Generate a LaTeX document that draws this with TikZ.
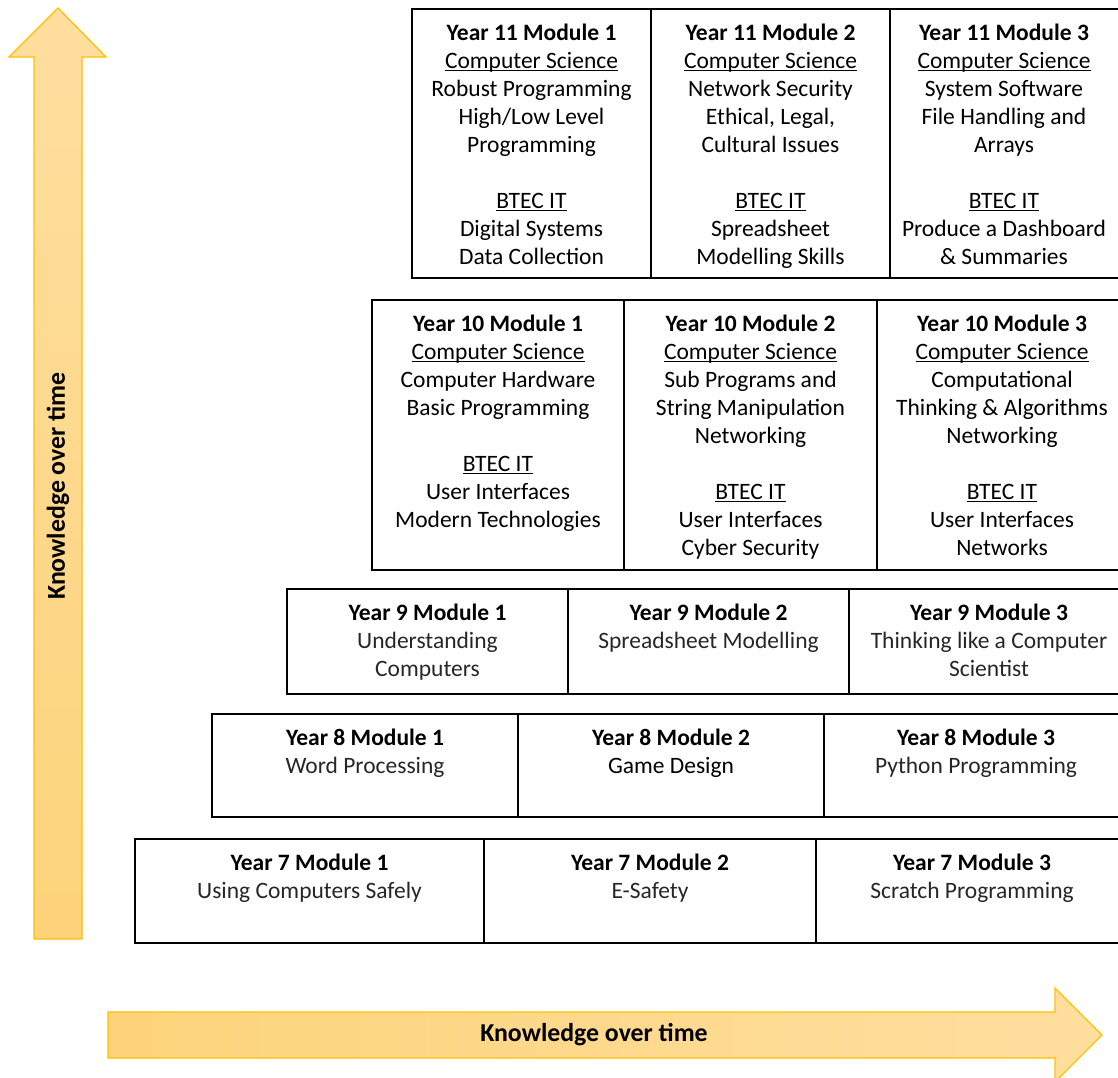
\documentclass[tikz,border=0pt]{standalone}
\usepackage{fontspec}
\setmainfont{Carlito}
\definecolor{arrowedge}{HTML}{FFC000}
\definecolor{arrowlight}{HTML}{FFDE9F}
\definecolor{arrowdark}{HTML}{FDD47B}
\newcommand\cellfont{\fontsize{23.5}{28}\selectfont}
\newcommand\myul[1]{\leavevmode\setbox0\hbox{#1}\rlap{\rule[-2.6pt]{\wd0}{1.3pt}}\box0}
\newcommand\lt[1]{{\color{black!85}#1}}
\tikzset{
  celltext/.style={anchor=north, align=center, inner sep=0pt, font=\cellfont},
  gridline/.style={draw=black, line width=2pt},
  arrowshape/.style={draw=arrowedge, line width=1.3pt, line join=miter},
  arrowlabel/.style={inner sep=0pt, font=\fontsize{25.8}{30}\selectfont\bfseries}
}
\begin{document}
\begin{tikzpicture}[x=1pt,y=-1pt]
\useasboundingbox (0,0) rectangle (1118,1077);
\begin{scope}
\clip (0,0) rectangle (1118,1077);
% arrows
\shadedraw[arrowshape, top color=arrowlight, bottom color=arrowdark]
  (34,939) -- (34,57) -- (9,57) -- (58,8) -- (106,57) -- (82,57) -- (82,939) -- cycle;
\shadedraw[arrowshape, left color=arrowdark, right color=arrowlight]
  (108,1012) -- (1055,1012) -- (1055,988) -- (1102,1035) -- (1055,1082) -- (1055,1058) -- (108,1058) -- cycle;
% grid rows
\draw[gridline] (412,9) rectangle (1130,278) (651,9) -- (651,278) (890,9) -- (890,278);
\draw[gridline] (372,300) rectangle (1130,570) (624,300) -- (624,570) (877,300) -- (877,570);
\draw[gridline] (287,589) rectangle (1130,694) (568,589) -- (568,694) (849,589) -- (849,694);
\draw[gridline] (212,714) rectangle (1130,817) (518,714) -- (518,817) (824,714) -- (824,817);
\draw[gridline] (135,839) rectangle (1130,943) (484,839) -- (484,943) (816,839) -- (816,943);
\end{scope}
% labels on arrows
\node[arrowlabel, rotate=90] (vlabel) at (58,486) {Knowledge over time};
\node[arrowlabel] (hlabel) at (594,1035) {Knowledge over time};
% Year 11
\node[celltext] (y11a) at (531.5,21) {\strut\textbf{Year 11 Module 1}\\ \myul{Computer Science}\\ Robust Programming\\ High/Low Level\\ Programming\\[28pt] \myul{BTEC IT}\\ Digital Systems\\ Data Collection};
\node[celltext] (y11b) at (770.5,21) {\strut\textbf{Year 11 Module 2}\\ \myul{Computer Science}\\ Network Security\\ Ethical, Legal,\\ Cultural Issues\\[28pt] \myul{BTEC IT}\\ Spreadsheet\\ Modelling Skills};
\node[celltext] (y11c) at (1004,21) {\strut\textbf{Year 11 Module 3}\\ \myul{Computer Science}\\ System Software\\ File Handling and\\ Arrays\\[28pt] \myul{BTEC IT}\\ Produce a Dashboard\\ \& Summaries};
% Year 10
\node[celltext] (y10a) at (498,312) {\strut\textbf{Year 10 Module 1}\\ \myul{Computer Science}\\ Computer Hardware\\ Basic Programming\\[28pt] \myul{BTEC IT}\\ User Interfaces\\ Modern Technologies};
\node[celltext] (y10b) at (750.5,312) {\strut\textbf{Year 10 Module 2}\\ \myul{Computer Science}\\ Sub Programs and\\ String Manipulation\\ Networking\\[28pt] \myul{BTEC IT}\\ User Interfaces\\ Cyber Security};
\node[celltext] (y10c) at (1002,312) {\strut\textbf{Year 10 Module 3}\\ \myul{Computer Science}\\ Computational\\ Thinking \& Algorithms\\ Networking\\[28pt] \myul{BTEC IT}\\ User Interfaces\\ Networks};
% Year 9
\node[celltext] (y9a) at (427.5,601) {\strut\textbf{Year 9 Module 1}\\ \lt{Understanding}\\ \lt{Computers}};
\node[celltext] (y9b) at (708.5,601) {\strut\textbf{Year 9 Module 2}\\ \lt{Spreadsheet Modelling}};
\node[celltext] (y9c) at (989,601) {\strut\textbf{Year 9 Module 3}\\ \lt{Thinking like a Computer}\\ \lt{Scientist}};
% Year 8
\node[celltext] (y8a) at (365,726) {\strut\textbf{Year 8 Module 1}\\ \lt{Word Processing}};
\node[celltext] (y8b) at (671,726) {\strut\textbf{Year 8 Module 2}\\ Game Design};
\node[celltext] (y8c) at (976,726) {\strut\textbf{Year 8 Module 3}\\ \lt{Python Programming}};
% Year 7
\node[celltext] (y7a) at (309.5,851) {\strut\textbf{Year 7 Module 1}\\ \lt{Using Computers Safely}};
\node[celltext] (y7b) at (650,851) {\strut\textbf{Year 7 Module 2}\\ \lt{E-Safety}};
\node[celltext] (y7c) at (972,851) {\strut\textbf{Year 7 Module 3}\\ \lt{Scratch Programming}};
\end{tikzpicture}
\end{document}
